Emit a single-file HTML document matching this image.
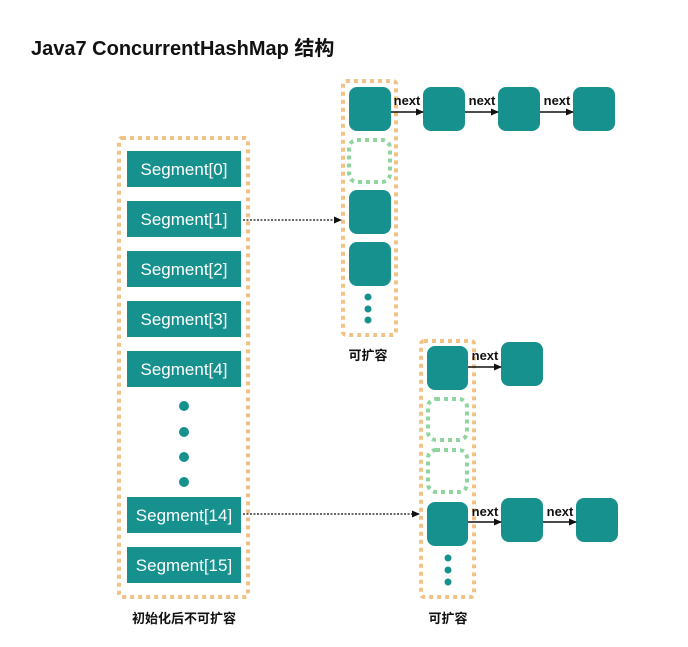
<!DOCTYPE html>
<html><head><meta charset="utf-8"><style>
body{margin:0;background:#fff;width:688px;height:642px;overflow:hidden}
text{font-family:"Liberation Sans","Noto Sans CJK SC",sans-serif}
</style></head><body>
<svg width="688" height="642" xmlns="http://www.w3.org/2000/svg">
<defs><marker id="a" markerWidth="8" markerHeight="8" refX="7" refY="4" orient="auto" markerUnits="userSpaceOnUse"><path d="M0,0.5 L8,4 L0,7.5z" fill="#111"/></marker></defs>
<text x="31" y="55" font-size="20" font-weight="bold" fill="#111">Java7 ConcurrentHashMap 结构</text>
<g fill="none" stroke="#f2c285" stroke-width="4" stroke-dasharray="4 4">
<rect x="119" y="138" width="129" height="459" rx="3"/>
<rect x="343" y="81" width="53" height="254" rx="3"/>
<rect x="421" y="341" width="53" height="256" rx="3"/>
</g>
<g fill="none" stroke="#8fd5a2" stroke-width="4" stroke-dasharray="4 4">
<rect x="349" y="140" width="41" height="42" rx="8"/>
<rect x="428" y="399" width="39" height="41" rx="8"/>
<rect x="428" y="450" width="39" height="42" rx="8"/>
</g>
<g fill="#17918e">
<rect x="127" y="151" width="114" height="36"/><rect x="127" y="201" width="114" height="36"/>
<rect x="127" y="251" width="114" height="36"/><rect x="127" y="301" width="114" height="36"/>
<rect x="127" y="351" width="114" height="36"/><rect x="127" y="497" width="114" height="36"/>
<rect x="127" y="547" width="114" height="36"/>
<circle cx="184" cy="406" r="5"/><circle cx="184" cy="432" r="5"/><circle cx="184" cy="457" r="5"/><circle cx="184" cy="482" r="5"/>
<rect x="349" y="87" width="42" height="44" rx="8"/><rect x="423" y="87" width="42" height="44" rx="8"/>
<rect x="498" y="87" width="42" height="44" rx="8"/><rect x="573" y="87" width="42" height="44" rx="8"/>
<rect x="349" y="190" width="42" height="44" rx="8"/><rect x="349" y="242" width="42" height="44" rx="8"/>
<circle cx="368" cy="297" r="3.5"/><circle cx="368" cy="309" r="3.5"/><circle cx="368" cy="320" r="3.5"/>
<rect x="427" y="346" width="41" height="44" rx="8"/><rect x="501" y="342" width="42" height="44" rx="8"/>
<rect x="427" y="502" width="41" height="44" rx="8"/><rect x="501" y="498" width="42" height="44" rx="8"/><rect x="576" y="498" width="42" height="44" rx="8"/>
<circle cx="448" cy="558" r="3.5"/><circle cx="448" cy="570" r="3.5"/><circle cx="448" cy="582" r="3.5"/>
</g>
<g fill="#fff" font-size="17" text-anchor="middle">
<text x="184" y="175">Segment[0]</text><text x="184" y="225">Segment[1]</text>
<text x="184" y="275">Segment[2]</text><text x="184" y="325">Segment[3]</text>
<text x="184" y="375">Segment[4]</text><text x="184" y="521">Segment[14]</text>
<text x="184" y="571">Segment[15]</text>
</g>
<g stroke="#111" stroke-width="1.5" marker-end="url(#a)">
<line x1="391" y1="112" x2="423" y2="112"/><line x1="465" y1="112" x2="498" y2="112"/><line x1="540" y1="112" x2="573" y2="112"/>
<line x1="468" y1="367" x2="501" y2="367"/><line x1="468" y1="522" x2="501" y2="522"/><line x1="543" y1="522" x2="576" y2="522"/>
</g>
<g stroke="#111" stroke-width="1.2" stroke-dasharray="2 1.5" marker-end="url(#a)">
<line x1="243" y1="220" x2="341" y2="220"/><line x1="243" y1="514" x2="419" y2="514"/>
</g>
<g font-size="13" font-weight="bold" fill="#111" text-anchor="middle">
<text x="407" y="105">next</text><text x="482" y="105">next</text><text x="557" y="105">next</text>
<text x="485" y="360">next</text><text x="485" y="516">next</text><text x="560" y="516">next</text>
</g>
<g font-size="13" fill="#111" text-anchor="middle" font-weight="bold">
<text x="368" y="360">可扩容</text><text x="448" y="623">可扩容</text><text x="184" y="623">初始化后不可扩容</text>
</g>
</svg>
</body></html>
